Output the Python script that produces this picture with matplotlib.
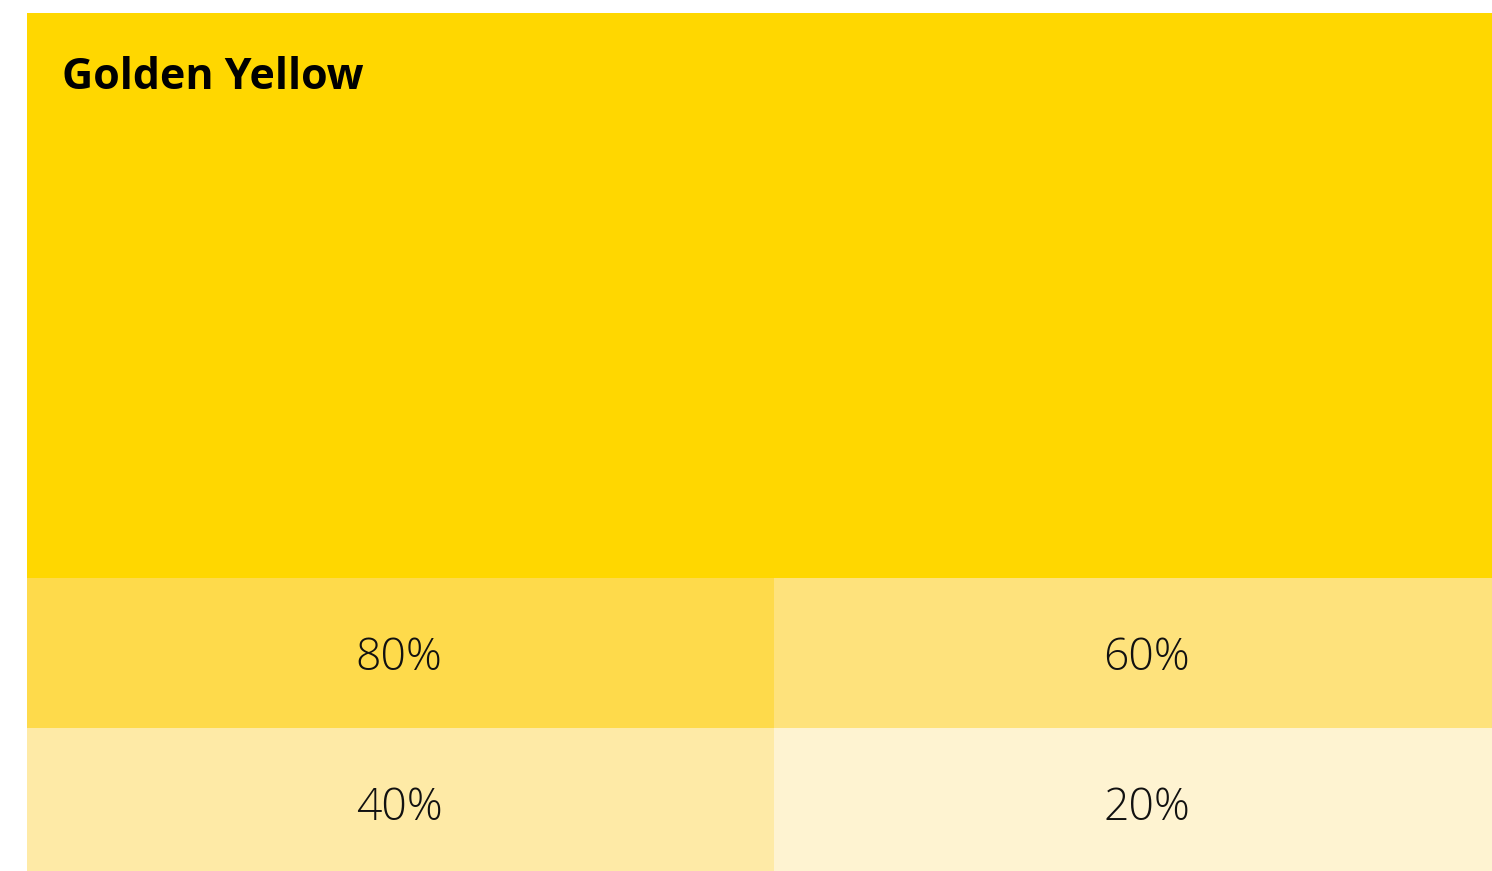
import matplotlib
matplotlib.use("Agg")
import matplotlib.pyplot as plt

title = "Golden Yellow"
base_color = "#FFD700"
tint_labels = ["80%", "60%", "40%", "20%"]
tint_colors = ["#FEDA4B", "#FEE27C", "#FEEAA6", "#FEF3D1"]

W, H = 1492, 871
fig = plt.figure(figsize=(W / 100, H / 100), dpi=100)
fig.patch.set_facecolor("white")
left, top = 27, 13
ax = fig.add_axes([left / W, 0, (W - left) / W, (H - top) / H])
ax.set_xlim(0, W - left)
ax.set_ylim(0, H - top)
ax.axis("off")

split_x = 774 - left
row2_h = 871 - 728
row1_h = 728 - 578
main_h = (H - top) - row1_h - row2_h

# main block
ax.bar(0, main_h, width=W - left, bottom=row1_h + row2_h, align="edge",
       color=base_color, linewidth=0)
ax.text(62 - left, (H - top) - (78 - top), title, fontsize=31, fontweight="bold",
        family=["Open Sans", "DejaVu Sans"], va="center", ha="left", color="black")

# tint cells
cells = [
    (0, split_x, row2_h, row1_h),
    (split_x, (W - left) - split_x, row2_h, row1_h),
    (0, split_x, 0, row2_h),
    (split_x, (W - left) - split_x, 0, row2_h),
]
for (x0, w, y0, h), lab, col in zip(cells, tint_labels, tint_colors):
    ax.bar(x0, h, width=w, bottom=y0, align="edge", color=col, linewidth=0)
    cx = (399 - left) if x0 == 0 else (1147 - left)
    dy = 6 if y0 > 0 else 9
    ax.text(cx, y0 + h / 2 - dy, lab, fontsize=32, fontweight="light",
            family=["Open Sans", "DejaVu Sans"], va="center", ha="center",
            color="#111111")

fig.savefig("out.png", dpi=100, facecolor="white")
